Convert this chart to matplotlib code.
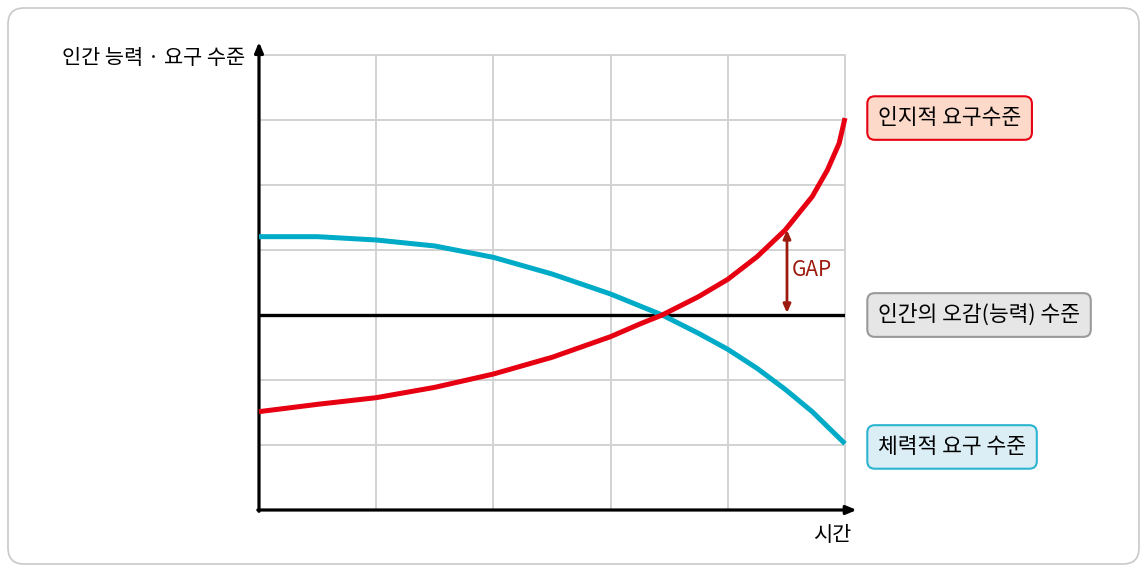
import numpy as np
import matplotlib.pyplot as plt
from matplotlib.patches import FancyBboxPatch

plt.rcParams['font.family'] = ['Noto Sans CJK KR', 'DejaVu Sans']

# 시간축 위치와 각 곡선의 수준 (격자 한 칸 = 1)
red_x = [0, 0.5, 1.0, 1.5, 2.0, 2.5, 3.0, 3.25, 3.44, 3.75, 4.0, 4.25, 4.49, 4.72, 4.85, 4.95, 5.0]
red_y = [1.513, 1.626, 1.728, 1.887, 2.092, 2.349, 2.667, 2.862, 3.0, 3.282, 3.549, 3.897,
         4.308, 4.821, 5.231, 5.641, 6.03]

blue_x = [0, 0.5, 1.0, 1.5, 2.0, 2.5, 3.0, 3.44, 3.75, 4.0, 4.25, 4.49, 4.72, 5.0]
blue_y = [4.205, 4.205, 4.154, 4.062, 3.887, 3.631, 3.323, 3.0, 2.718, 2.472, 2.179, 1.856, 1.513, 1.02]

base_level = 3.0
gap_x = 4.505
gap_top = 4.31

labels = ['인지적 요구수준', '인간의 오감(능력) 수준', '체력적 요구 수준']
label_y = [6.03, 3.0, 0.97]

RED = '#e60012'
BLUE = '#00abc8'
GAP_C = '#9c1a0e'

fig = plt.figure(figsize=(11.47, 5.70), dpi=100)
fig.patch.set_facecolor('white')

# 바깥 테두리
frame = FancyBboxPatch((8 / 1147, 6 / 570), 1131 / 1147, 556 / 570,
                       boxstyle='round,pad=0,rounding_size=0.014',
                       transform=fig.transFigure, fc='none', ec='#c9c9c9', lw=1.2,
                       mutation_aspect=1147 / 570)
fig.patches.append(frame)

ax = fig.add_axes([259 / 1147, 60 / 570, 586 / 1147, 455 / 570])
ax.set_xlim(0, 5)
ax.set_ylim(0, 7)
ax.axis('off')

# 격자
for gx in range(1, 6):
    ax.plot([gx, gx], [0, 7], color='#d2d2d2', lw=1.4, zorder=1, clip_on=False)
for gy in range(1, 8):
    ax.plot([0, 5], [gy, gy], color='#d2d2d2', lw=1.4, zorder=1, clip_on=False)

# 축 화살표
ax.annotate('', xy=(0, 7.2), xytext=(0, -0.02),
            arrowprops=dict(arrowstyle='-|>,head_length=0.6,head_width=0.25', color='black', lw=2.3,
                            shrinkA=0, shrinkB=0), annotation_clip=False)
ax.annotate('', xy=(5.1, 0), xytext=(-0.01, 0),
            arrowprops=dict(arrowstyle='-|>,head_length=0.6,head_width=0.25', color='black', lw=2.3,
                            shrinkA=0, shrinkB=0), annotation_clip=False)

ax.plot([0, 5], [base_level, base_level], color='black', lw=2.4, zorder=3, solid_capstyle='butt')
ax.plot(blue_x, blue_y, color=BLUE, lw=3.6, zorder=4, solid_capstyle='butt',
        solid_joinstyle='round', clip_on=False)
ax.plot(red_x, red_y, color=RED, lw=3.6, zorder=5, solid_capstyle='butt',
        solid_joinstyle='round', clip_on=False)

# GAP 표시
ax.annotate('', xy=(gap_x, gap_top), xytext=(gap_x, base_level + 0.03),
            arrowprops=dict(arrowstyle='<|-|>,head_length=0.5,head_width=0.22', color=GAP_C, lw=2.0,
                            shrinkA=0, shrinkB=0), zorder=6)
ax.text(4.548, 3.69, 'GAP', color=GAP_C, fontsize=15, ha='left', va='center')

# 축 제목
ax.text(-0.12, 6.95, '인간 능력 · 요구 수준', fontsize=15, ha='right', va='center', clip_on=False)
ax.text(4.89, -0.385, '시간', fontsize=15, ha='center', va='center', clip_on=False)

# 범례 상자
styles = [('#fcd9c8', RED), ('#e6e6e6', '#9a9a9a'), ('#dbeef5', '#2bb5cf')]
for txt, yy, (fc, ec) in zip(labels, label_y, styles):
    ax.text(5.282, yy, txt, fontsize=15.5, ha='left', va='center', clip_on=False,
            bbox=dict(boxstyle='round,pad=0.5,rounding_size=0.35', fc=fc, ec=ec, lw=1.5))

fig.savefig('out.png', dpi=100)
